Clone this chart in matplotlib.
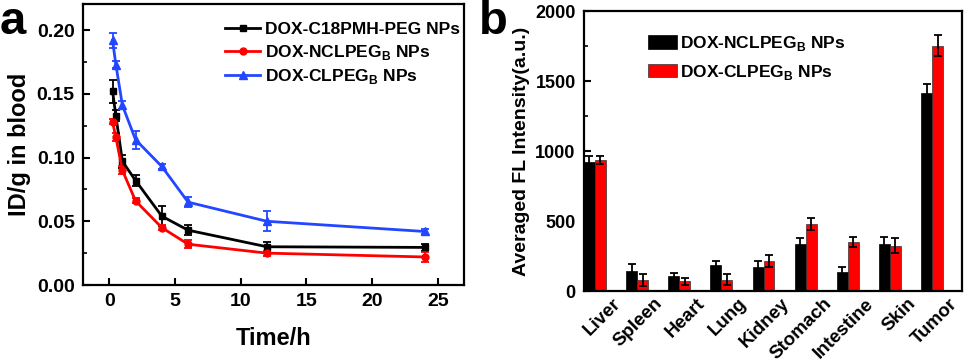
import numpy as np
import matplotlib
matplotlib.use("Agg")
import matplotlib.pyplot as plt
import matplotlib.transforms as mtrans
from matplotlib.ticker import MultipleLocator
from matplotlib.lines import Line2D

plt.rcParams['font.family'] = ['Liberation Sans', 'DejaVu Sans']
plt.rcParams['font.weight'] = 'bold'
plt.rcParams['mathtext.fontset'] = 'custom'
plt.rcParams['mathtext.rm'] = 'Liberation Sans:bold'
plt.rcParams['mathtext.bf'] = 'Liberation Sans:bold'
plt.rcParams['axes.linewidth'] = 1.6

# panel a: blood circulation
time_h = [0.25, 0.5, 1, 2, 4, 6, 12, 24]
c18 = [0.152, 0.133, 0.097, 0.082, 0.054, 0.043, 0.030, 0.0295]
c18_err = [0.009, 0.004, 0.005, 0.004, 0.008, 0.004, 0.004, 0.003]
ncl = [0.128, 0.116, 0.090, 0.066, 0.045, 0.032, 0.025, 0.022]
ncl_err = [0.002, 0.003, 0.003, 0.002, 0.002, 0.003, 0.002, 0.004]
cl = [0.192, 0.173, 0.141, 0.114, 0.093, 0.065, 0.050, 0.042]
cl_err = [0.006, 0.003, 0.003, 0.007, 0.002, 0.004, 0.008, 0.002]
names_a = ["DOX-C18PMH-PEG NPs", r"DOX-NCLPEG$_\mathrm{B}$ NPs", r"DOX-CLPEG$_\mathrm{B}$ NPs"]

# panel b: organ distribution
organs = ["Liver", "Spleen", "Heart", "Lung", "Kidney", "Stomach", "Intestine", "Skin", "Tumor"]
fl_ncl = [925, 144, 105, 185, 172, 338, 136, 333, 1415]
fl_ncl_err = [40, 48, 25, 31, 41, 40, 39, 53, 67]
fl_cl = [935, 77, 70, 81, 213, 476, 350, 323, 1750]
fl_cl_err = [30, 43, 26, 40, 45, 42, 38, 54, 75]

blue = "#2247ff"
fig = plt.figure(figsize=(9.66, 3.62), dpi=100)

ax1 = fig.add_axes([83/966, (362-285)/362, (464-83)/966, (285-4)/362])
handles = []
for yv, ye, col, mk, ms, nm in [(c18, c18_err, "black", "s", 5, names_a[0]),
                                (ncl, ncl_err, "red", "o", 5, names_a[1]),
                                (cl, cl_err, blue, "^", 6, names_a[2])]:
    ax1.errorbar(time_h, yv, yerr=ye, color=col, marker=mk, ms=ms, lw=2,
                 capsize=3, elinewidth=1.3, capthick=1.3)
    handles.append(Line2D([], [], color=col, marker=mk, ms=ms, lw=2, label=nm))
ax1.set_xlim(-2, 27)
ax1.set_ylim(0, 0.2205)
ax1.xaxis.set_major_locator(MultipleLocator(5))
ax1.yaxis.set_major_locator(MultipleLocator(0.05))
ax1.yaxis.set_minor_locator(MultipleLocator(0.025))
ax1.yaxis.set_major_formatter(matplotlib.ticker.FormatStrFormatter("%.2f"))
ax1.tick_params(direction="in", length=5, width=1.5, labelsize=14, pad=6)
ax1.tick_params(which="minor", direction="in", length=3, width=1.2)
ax1.set_xlabel("Time/h", fontsize=17, fontweight="bold", labelpad=12)
ax1.set_ylabel("ID/g in blood", fontsize=17, fontweight="bold", labelpad=4)
ax1.legend(handles=handles, loc="upper right", bbox_to_anchor=(0.99, 0.935), frameon=False,
           fontsize=12.5, handlelength=2.0, handletextpad=0.3, labelspacing=0.3,
           borderaxespad=0, borderpad=0)

# panel b bars
ax2 = fig.add_axes([584/966, (362-291)/362, (962-584)/966, (291-11)/362])
x = np.arange(len(organs))
w = 0.26
ek = dict(elinewidth=1.3, capthick=1.3, ecolor="black")
ax2.bar(x - w/2, fl_ncl, w, yerr=fl_ncl_err, capsize=3, color="black", edgecolor="black",
        lw=0.5, error_kw=ek, label=r"DOX-NCLPEG$_\mathrm{B}$ NPs")
ax2.bar(x + w/2, fl_cl, w, yerr=fl_cl_err, capsize=3, color="red", edgecolor="#333333",
        lw=0.5, error_kw=ek, label=r"DOX-CLPEG$_\mathrm{B}$ NPs")
ax2.set_xlim(-0.26, 8.71)
ax2.set_ylim(0, 2000)
ax2.yaxis.set_major_locator(MultipleLocator(500))
ax2.yaxis.set_minor_locator(MultipleLocator(250))
ax2.tick_params(axis="y", direction="in", length=5, width=1.5, labelsize=13, pad=6)
ax2.tick_params(axis="y", which="minor", direction="in", length=3, width=1.2)
ax2.set_xticks(x)
ax2.set_xticklabels(organs, rotation=45, ha="right", rotation_mode="anchor", fontsize=13.5)
ax2.tick_params(axis="x", length=0, pad=3)
shift = mtrans.ScaledTranslation(0.17, 0, fig.dpi_scale_trans)
for lab in ax2.get_xticklabels():
    lab.set_transform(lab.get_transform() + shift)
ax2.set_ylabel("Averaged FL Intensity(a.u.)", fontsize=14, fontweight="bold", labelpad=4)
ax2.legend(loc="upper left", bbox_to_anchor=(0.168, 0.918), frameon=False, fontsize=12.5,
           handlelength=1.7, handleheight=0.8, handletextpad=0.2, labelspacing=0.55,
           borderaxespad=0, borderpad=0)

fig.text(0.0, (362-34)/362, "a", fontsize=34, fontweight="bold", va="baseline", ha="left")
fig.text(0.496, (362-34)/362, "b", fontsize=34, fontweight="bold", va="baseline", ha="left")

fig.savefig("out.png", dpi=100)
